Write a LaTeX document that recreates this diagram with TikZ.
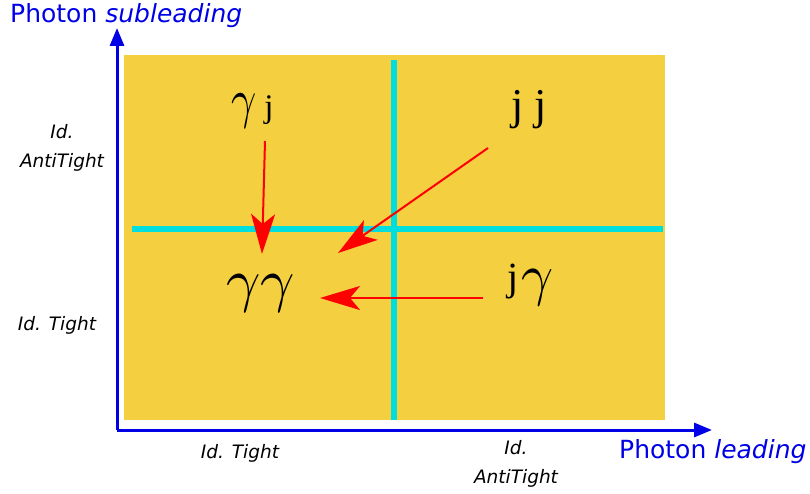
\documentclass[tikz,border=0pt]{standalone}
\usepackage{fontspec}
\setmainfont{DejaVu Sans}
\newfontfamily\grk{Liberation Serif}
\usetikzlibrary{arrows.meta}
\definecolor{boxyellow}{RGB}{244,208,64}
\definecolor{cyanline}{RGB}{0,221,221}
\definecolor{axisblue}{RGB}{0,0,230}
\definecolor{arrowred}{RGB}{255,0,0}
\newcommand{\gmbig}[2]{\scalebox{#1}[#2]{$\gamma$}}
\newcommand{\jay}[1]{{\grk\fontsize{#1}{#1}\selectfont j}}
\tikzset{
  axis/.style={draw=axisblue, line width=3pt, -{Triangle[length=18pt,width=14pt]}},
  axislabel/.style={text=axisblue, font=\fontsize{25}{28}\selectfont, inner sep=0pt},
  idlabel/.style={font=\fontsize{18.5}{29}\selectfont\itshape, align=center, inner sep=0pt},
  cls/.style={inner sep=0pt, anchor=base west},
  redarrow/.style={draw=arrowred, line width=2pt, -{Stealth[length=40pt,width=24pt,inset=10pt]}},
  divider/.style={draw=cyanline, line width=6pt}
}
\begin{document}
\begin{tikzpicture}[x=1pt,y=-1pt]
\useasboundingbox (0,0) rectangle (810,494);
\fill[boxyellow] (124,55) rectangle (665,420);
\draw[divider] (394,60) -- (394,420);
\draw[divider] (132,229) -- (663,229);
\coordinate (o) at (117,430);
\coordinate (ytip) at (117,28);
\coordinate (xtip) at (712,430);
\draw[axis] (o) -- (ytip);
\draw[axis] (o) -- (xtip);
\node[axislabel, anchor=west] (ylab) at (10,16) {Photon \textit{subleading}};
\node[axislabel, anchor=west] (xlab) at (619,452) {Photon \textit{leading}};
\node[idlabel] (yanti) at (62,148) {Id.\\AntiTight};
\node[idlabel] (ytight) at (57,325) {Id. Tight};
\node[idlabel] (xtight) at (240,453) {Id. Tight};
\node[idlabel] (xanti) at (516,464) {Id.\\AntiTight};
\node[cls] (gj) at (231,118) {\gmbig{4.4}{5.5}\hspace{8pt}\jay{33}};
\node[cls] (jj) at (511,120) {\jay{44}\hspace{11pt}\jay{44}};
\node[cls] (gg) at (226,300) {\gmbig{6}{6}\gmbig{6}{6}};
\node[cls] (jg) at (507,290) {\jay{40}\hspace{3pt}\raisebox{-4pt}{\gmbig{5.6}{5.8}}};
\coordinate (a1s) at (265,141);
\coordinate (a1e) at (262,254);
\coordinate (a2s) at (488,148);
\coordinate (a2e) at (338,253);
\coordinate (a3s) at (483,298);
\coordinate (a3e) at (320,298);
\draw[redarrow] (a1s) -- (a1e);
\draw[redarrow] (a2s) -- (a2e);
\draw[redarrow] (a3s) -- (a3e);
\end{tikzpicture}
\end{document}
